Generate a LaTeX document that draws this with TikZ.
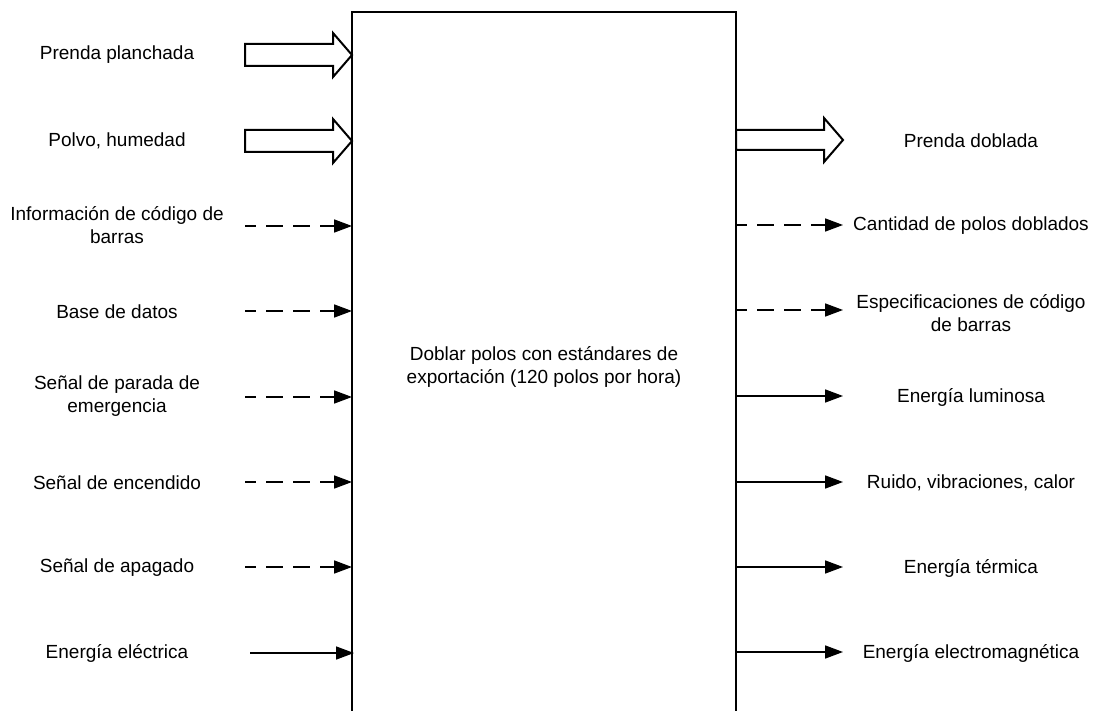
\documentclass[tikz,border=0pt]{standalone}
\usepackage{fontspec}
\setmainfont{Liberation Sans}
\usetikzlibrary{arrows.meta}

\begin{document}
\begin{tikzpicture}[x=1pt, y=-1pt,
        every node/.style={font=\fontsize{19}{23}\selectfont, align=center, inner sep=0pt, outer sep=0pt},
        flow/.style={line width=1.6pt, -{Triangle[length=18pt,width=13pt]}},
        info/.style={flow, dash pattern=on 17pt off 10pt, dash phase=6pt},
        bigarrow/.style={line width=2pt, line join=miter, fill=white}]
        \useasboundingbox (0,0) rectangle (1094,711);
        \clip (0,0) rectangle (1094,711);
        % the process box, its bottom runs off the page
        \node[draw, line width=2pt, minimum width=384pt, minimum height=710pt] (proc) at (544,367)
            {Doblar polos con estándares de\\exportación (120 polos por hora)};

        % inputs
        \node (planchada) at (117,55) {Prenda planchada};
        \node (polvo) at (117,141) {Polvo, humedad};
        \node (infocod) at (117,225) {Información de código de\\barras};
        \node (basedat) at (117,312) {Base de datos};
        \node (parada) at (117,396) {Señal de parada de\\emergencia};
        \node (encendido) at (117,483) {Señal de encendido};
        \node (apagado) at (117,568) {Señal de apagado};
        \node (eelec) at (117,653) {Energía eléctrica};

        \coordinate (in1) at (245,55);
        \coordinate (in2) at (245,141);
        \coordinate (in3) at (245,226);
        \coordinate (in4) at (245,311);
        \coordinate (in5) at (245,397);
        \coordinate (in6) at (245,482);
        \coordinate (in7) at (245,567);
        \coordinate (in8) at (250,653);
        \draw[bigarrow] (in1) ++(0,-11) -- ++(88,0) -- ++(0,-11) -- (in1 -| proc.west) -- ++(-19,22) -- ++(0,-11) -- ++(-88,0) -- cycle;
        \draw[bigarrow] (in2) ++(0,-11) -- ++(88,0) -- ++(0,-11) -- (in2 -| proc.west) -- ++(-19,22) -- ++(0,-11) -- ++(-88,0) -- cycle;
        \draw[info] (in3) -- (in3 -| proc.west);
        \draw[info] (in4) -- (in4 -| proc.west);
        \draw[info] (in5) -- (in5 -| proc.west);
        \draw[info] (in6) -- (in6 -| proc.west);
        \draw[info] (in7) -- (in7 -| proc.west);
        \draw[flow] (in8) -- ([xshift=2pt]in8 -| proc.west);

        % outputs
        \node (doblada) at (971,141) {Prenda doblada};
        \node (cantidad) at (971,226) {Cantidad de polos doblados};
        \node (especif) at (971,313) {Especificaciones de código\\de barras};
        \node (eluz) at (971,397) {Energía luminosa};
        \node (ruido) at (971,483) {Ruido, vibraciones, calor};
        \node (eterm) at (971,568) {Energía térmica};
        \node (emag) at (971,653) {Energía electromagnética};

        \coordinate (out1) at (843,140);
        \coordinate (out2) at (843,225);
        \coordinate (out3) at (843,310);
        \coordinate (out4) at (843,396);
        \coordinate (out5) at (843,482);
        \coordinate (out6) at (843,567);
        \coordinate (out7) at (843,652);
        \draw[bigarrow] (proc.east |- out1) ++(0,-10) -- ++(88,0) -- ++(0,-12) -- (out1) -- ++(-19,22) -- ++(0,-12) -- ++(-88,0) -- cycle;
        \draw[info] (proc.east |- out2) -- (out2);
        \draw[info] (proc.east |- out3) -- (out3);
        \draw[flow] (proc.east |- out4) -- (out4);
        \draw[flow] (proc.east |- out5) -- (out5);
        \draw[flow] (proc.east |- out6) -- (out6);
        \draw[flow] (proc.east |- out7) -- (out7);
    \end{tikzpicture}
\end{document}
